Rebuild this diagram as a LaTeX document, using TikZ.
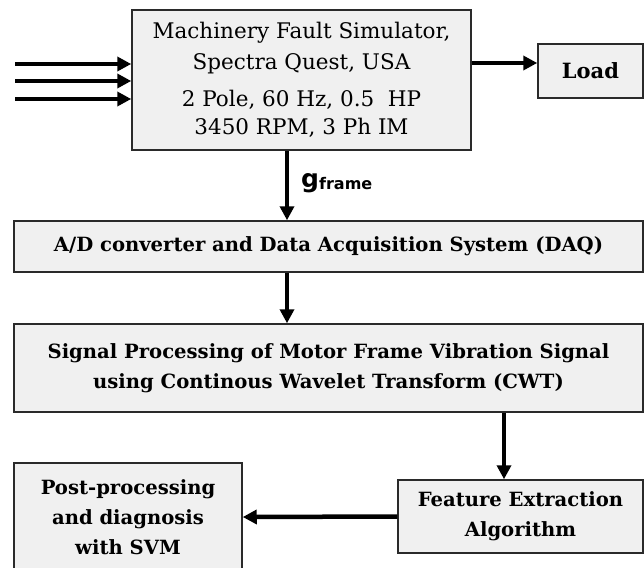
\documentclass[tikz,border=0pt]{standalone}
\usepackage{fontspec}
\setmainfont{DejaVu Serif}
\newfontfamily\labelsans{DejaVu Sans}
\usetikzlibrary{arrows.meta}
\definecolor{boxfill}{HTML}{F0F0F0}
\definecolor{boxline}{HTML}{2A2A2A}
\tikzset{
  block/.style={draw=boxline, line width=1.5pt, fill=boxfill, inner sep=0pt,
    align=center, text=black},
  flow/.style={line width=4.5pt, -{Triangle[length=14pt,width=14pt]}},
  boldtext/.style={font=\bfseries\fontsize{19.6}{30}\selectfont},
  plaintext/.style={font=\fontsize{21.5}{31}\selectfont},
}
\begin{document}
\begin{tikzpicture}[x=1pt,y=-1pt]
\useasboundingbox (0,0) rectangle (644,567);
\begin{scope}
\clip (0,0) rectangle (644,567);

% blocks
\node[block, plaintext, minimum width=339pt, minimum height=140pt] (sim) at (301.5,80)
  {Machinery Fault Simulator,\\ Spectra Quest, USA\\[6pt]
   2 Pole, 60 Hz, 0.5~ HP\\[-3pt] 3450 RPM, 3 Ph IM};
\node[block, boldtext, font=\bfseries\fontsize{21}{30}\selectfont,
  minimum width=105pt, minimum height=54pt] (load) at (590.5,71) {Load};
\node[block, boldtext, minimum width=629pt, minimum height=51pt] (daq) at (328.5,246.5)
  {A/D converter and Data Acquisition System (DAQ)};
\node[block, boldtext, minimum width=629pt, minimum height=88pt] (cwt) at (328.5,368)
  {Signal Processing of Motor Frame Vibration Signal\\ using Continous Wavelet Transform (CWT)};
\node[block, boldtext, minimum width=245pt, minimum height=73pt] (feat) at (520.5,516.5)
  {Feature Extraction\\ Algorithm};
\node[block, boldtext, minimum width=228pt, minimum height=108pt] (post) at (128,517)
  {Post-processing\\ and diagnosis\\ with SVM};

% supply lines into the simulator
\coordinate (in1) at (15,64);
\coordinate (in2) at (15,81);
\coordinate (in3) at (15,99);
\draw[flow] (in1) -- (in1 -| sim.west);
\draw[flow] (in2) -- (in2 -| sim.west);
\draw[flow] (in3) -- (in3 -| sim.west);

% simulator to load
\coordinate (shaft) at (0,63);
\draw[flow] (shaft -| sim.east) -- (shaft -| load.west);

% signal chain
\coordinate (sig) at (287,0);
\draw[flow] (sig |- sim.south) -- (sig |- daq.north);
\draw[flow] (sig |- daq.south) -- (sig |- cwt.north);
\coordinate (feed) at (504,0);
\draw[flow] (feed |- cwt.south) -- (feed |- feat.north);
\draw[flow] (feat.west) -- (post.east);

% accelerometer signal label
\node[anchor=base west, inner sep=0pt, font=\labelsans\bfseries] (gl) at (301,187)
  {\fontsize{25}{25}\selectfont g\raisebox{-2pt}{\fontsize{16}{16}\selectfont frame}};
\end{scope}
\end{tikzpicture}
\end{document}
